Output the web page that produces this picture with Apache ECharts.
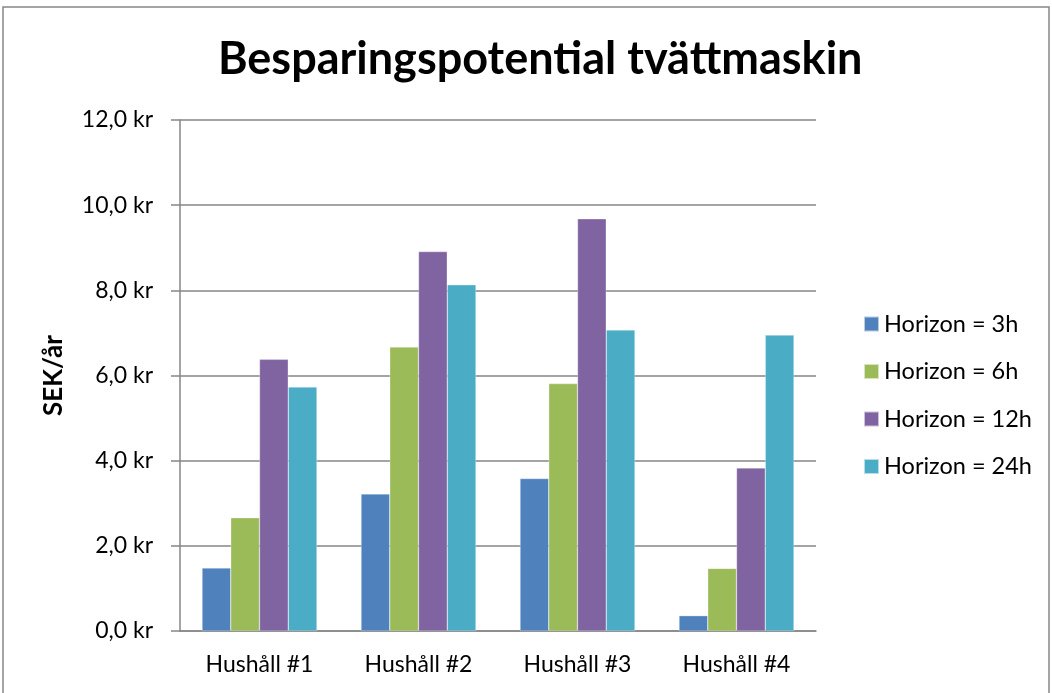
<!DOCTYPE html>
<html>
<head>
<meta charset="utf-8">
<script src="https://cdn.jsdelivr.net/npm/echarts@6/dist/echarts.min.js"></script>
<style>
  html, body { margin: 0; padding: 0; background: #fff; }
  #chart { width: 1052px; height: 693px; }
</style>
</head>
<body>
<div id="chart"></div>
<script>
// Data
const categories = ['Hushåll #1', 'Hushåll #2', 'Hushåll #3', 'Hushåll #4'];
const seriesNames = ['Horizon = 3h', 'Horizon = 6h', 'Horizon = 12h', 'Horizon = 24h'];
const h3 = [1.48, 3.22, 3.58, 0.36];
const h6 = [2.66, 6.67, 5.81, 1.47];
const h12 = [6.38, 8.91, 9.68, 3.83];
const h24 = [5.73, 8.13, 7.07, 6.95];
const colors = ['#4F81BD', '#9BBB59', '#8064A2', '#4BACC6'];

const font = 'Lato, "Open Sans", sans-serif';
const chart = echarts.init(document.getElementById('chart'));

const makeBar = (name, data, i) => ({
    name, type: 'bar', data,
    barGap: '0%', barCategoryGap: '27.7%',
    itemStyle: { color: colors[i], borderColor: 'rgba(255,255,255,0.6)', borderWidth: 0.5 }
});

chart.setOption({
    animation: false,
    color: colors,
    title: {
        text: 'Besparingspotential tvättmaskin',
        left: 213, top: 32,
        textStyle: { fontFamily: font, fontWeight: 'bold', fontSize: 45, color: '#000' }
    },
    graphic: [{
        type: 'rect', shape: { x: 3, y: 7, width: 1046, height: 700 },
        style: { fill: 'none', stroke: '#868686', lineWidth: 1.5 }, silent: true
    }],
    legend: {
        orient: 'vertical', left: 858, top: 307,
        itemWidth: 15, itemHeight: 15, itemGap: 23.5,
        icon: 'rect',
        textStyle: { fontFamily: font, fontSize: 23.5, color: '#000', lineHeight: 24 },
        data: seriesNames
    },
    grid: { left: 180, right: 236, top: 120, bottom: 62, containLabel: false },
    xAxis: {
        type: 'category', data: categories,
        axisLine: { lineStyle: { color: '#868686', width: 1.5 } },
        axisTick: { show: false },
        axisLabel: { fontFamily: font, fontSize: 23, color: '#000', margin: 22 }
    },
    yAxis: {
        type: 'value', min: 0, max: 12, interval: 2,
        name: 'SEK/år', nameLocation: 'middle', nameGap: 113, nameRotate: 90,
        nameTextStyle: { fontFamily: font, fontWeight: 'bold', fontSize: 26, color: '#000' },
        axisLine: { show: true, lineStyle: { color: '#868686', width: 1.5 } },
        axisTick: { show: true, length: 9, lineStyle: { color: '#868686', width: 1.5 } },
        splitLine: { lineStyle: { color: '#868686', width: 1.5 } },
        axisLabel: {
            fontFamily: font, fontSize: 23, color: '#000', margin: 27,
            formatter: v => v.toFixed(1).replace('.', ',') + ' kr'
        }
    },
    series: [makeBar(seriesNames[0], h3, 0), makeBar(seriesNames[1], h6, 1),
             makeBar(seriesNames[2], h12, 2), makeBar(seriesNames[3], h24, 3)]
});
</script>
</body>
</html>
